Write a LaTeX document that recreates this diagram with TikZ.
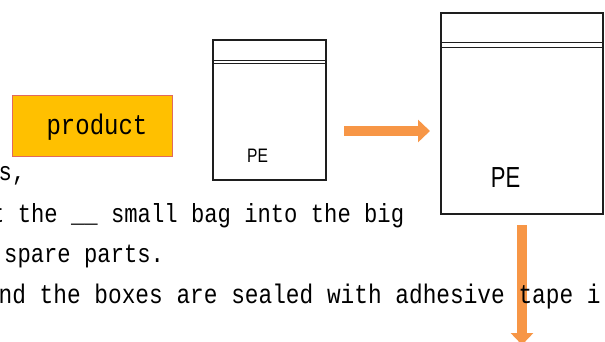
\documentclass[tikz,border=0pt]{standalone}
\usepackage{fontspec}
\usepackage{tikz}
\usetikzlibrary{arrows.meta}

\newfontfamily\monofont{Liberation Mono}
\newfontfamily\labelfont{Liberation Sans}

\definecolor{prodfill}{HTML}{FFC000}
\definecolor{prodline}{HTML}{E06A5E}
\definecolor{flowor}{HTML}{F79646}
\definecolor{bagink}{HTML}{1E1E1E}

\newcommand{\tallmono}[2]{\monofont\fontsize{#1}{26}\selectfont\scalebox{1}[1.18]{#2}}

\tikzset{
	bag/.style={draw=bagink, line width=1.4pt, inner sep=0pt},
	bagline/.style={draw=bagink, line width=1.4pt},
	prodbox/.style={draw=prodline, fill=prodfill, line width=0.9pt, minimum width=160pt, minimum height=61pt, inner sep=0pt},
	petext/.style={inner sep=0pt, anchor=base},
	textline/.style={inner sep=0pt, anchor=base west},
	flow/.style={draw=flowor, line width=10pt, -{Triangle[width=22pt,length=12pt]}}
}

\begin{document}
\begin{tikzpicture}[x=1pt, y=-1pt]

	% ---- frame

	\useasboundingbox (0,0) rectangle (605,342);

	% ---- product

	\node[prodbox] (product) at (92,125.5) {};
	\node[petext] (prodtext) at (97,135) {\tallmono{24}{product}};

	% ---- bags

	\node[bag, minimum width=113pt, minimum height=140pt] (smallbag) at (269.5,110) {};
	\node[bag, minimum width=162pt, minimum height=201pt] (bigbag) at (522,113.5) {};

	\foreach \bag/\za/\zb in {smallbag/21/24, bigbag/30/35} {
		\draw[bagline] ([yshift=-\za pt]\bag.north west) -- ([yshift=-\za pt]\bag.north east);
		\draw[bagline] ([yshift=-\zb pt]\bag.north west) -- ([yshift=-\zb pt]\bag.north east);
	}

	\node[petext] (smallpe) at (257.5,162) {\labelfont\fontsize{19.5}{22}\selectfont\scalebox{0.8}[1]{PE}};
	\node[petext] (bigpe) at (505.5,187) {\labelfont\fontsize{29}{32}\selectfont\scalebox{0.76}[1]{PE}};

	% ---- arrows

	\coordinate (rightfrom) at (344,131);
	\coordinate (rightto) at (430,131);
	\coordinate (downfrom) at (522,225);
	\coordinate (downto) at (522,345);

	\draw[flow] (rightfrom) -- (rightto);
	\draw[flow] (downfrom) -- (downto);

	% ---- text lines

	\node[textline] (lineone) at (-1.5,180) {\tallmono{22.2}{s,}};
	\node[textline] (linetwo) at (-9,222) {\tallmono{22.2}{t the \_\_ small bag into the big}};
	\node[textline] (linethree) at (4,262) {\tallmono{22.2}{spare parts.}};
	\node[textline] (linefour) at (-1.5,303) {\tallmono{22.8}{nd the boxes are sealed with adhesive tape i}};

\end{tikzpicture}
\end{document}
